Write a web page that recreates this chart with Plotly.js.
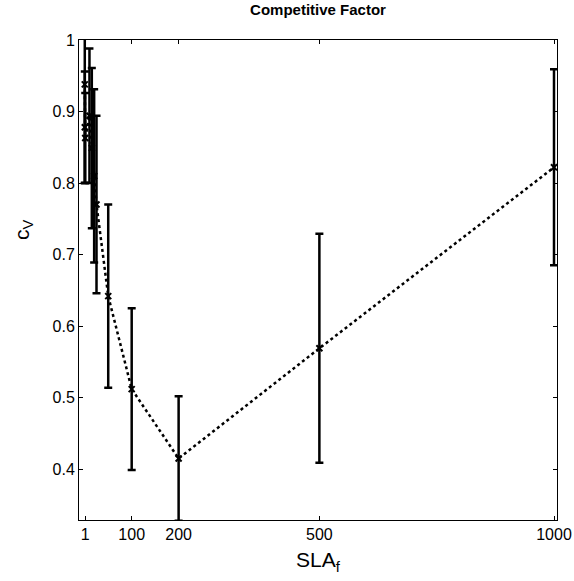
<!DOCTYPE html>
<html>
<head>
<meta charset="utf-8">
<script src="https://cdn.plot.ly/plotly-3.0.1.min.js"></script>
<style>html,body{margin:0;padding:0;background:#fff;}#chart{width:574px;height:581px;}</style>
</head>
<body>
<div id="chart"></div>
<script>
// SLA_f values (x), competitive factor c_V (y) and error half-widths
const slaF = [0.01, 0.1, 1, 10, 15, 20, 25, 50, 100, 200, 500, 1000];
const cV   = [0.938, 0.878, 0.863, 0.894, 0.849, 0.81, 0.77, 0.642, 0.512, 0.415, 0.569, 0.822];
const cVErr = [0.138, 0.078, 0.063, 0.094, 0.112, 0.121, 0.124, 0.128, 0.113, 0.087, 0.16, 0.137];
const xTicks = [1, 100, 200, 500, 1000];
const yTicks = [0.4, 0.5, 0.6, 0.7, 0.8, 0.9, 1];
const yTickText = ['0.4', '0.5', '0.6', '0.7', '0.8', '0.9', '1'];

const trace = {
  x: slaF, y: cV, type: 'scatter', mode: 'lines+markers',
  line: {color: '#000', width: 2.5, dash: 'dot'},
  marker: {symbol: 'x-thin', size: 6, line: {color: '#000', width: 2}, color: '#000'},
  error_y: {type: 'data', array: cVErr, visible: true, color: '#000', thickness: 2.5, width: 4},
  cliponaxis: true, showlegend: false
};

const font = {family: '"Liberation Sans", Arial, sans-serif', color: '#000'};
const layout = {
  width: 574, height: 581,
  margin: {l: 79, r: 17, t: 40, b: 61},
  paper_bgcolor: '#fff', plot_bgcolor: '#fff',
  font: Object.assign({size: 16}, font),
  title: {text: '<b>Competitive Factor</b>', font: Object.assign({size: 15}, font),
          x: 0.5, xref: 'paper', y: 1 - 10/581, yref: 'container', yanchor: 'middle'},
  xaxis: {
    range: [-12.3, 1006.4], tickvals: xTicks, ticktext: xTicks.map(String),
    ticks: 'inside', ticklen: 4, tickcolor: '#000', tickwidth: 1,
    showline: true, linecolor: '#000', linewidth: 1, mirror: 'ticks',
    showgrid: false, zeroline: false, tickfont: Object.assign({size: 16}, font),
    title: {text: 'SLA<sub>f</sub>', font: Object.assign({size: 21}, font), standoff: 10}
  },
  yaxis: {
    range: [0.329, 1.0], tickvals: yTicks, ticktext: yTickText,
    ticks: 'inside', ticklen: 4, tickcolor: '#000', tickwidth: 1,
    showline: true, linecolor: '#000', linewidth: 1, mirror: 'ticks',
    showgrid: false, zeroline: false, tickfont: Object.assign({size: 16}, font)
  },
  annotations: [{
    text: 'c<sub>V</sub>', textangle: -90, xref: 'paper', yref: 'paper',
    x: -56/478, y: (520 - 230)/480, xanchor: 'center', yanchor: 'middle',
    showarrow: false, font: Object.assign({size: 21}, font)
  }]
};

Plotly.newPlot('chart', [trace], layout, {displayModeBar: false, staticPlot: true});
</script>
</body>
</html>
